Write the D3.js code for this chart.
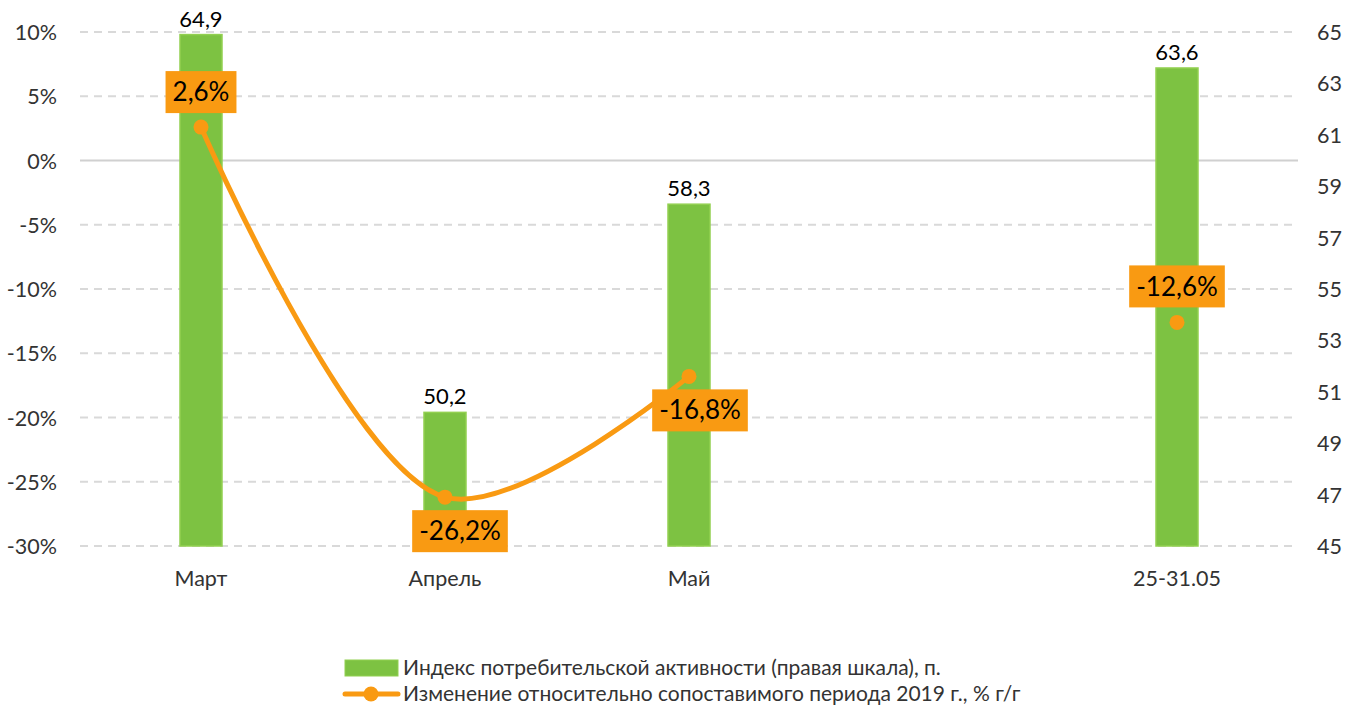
<!DOCTYPE html>
<html><head><meta charset="utf-8">
<script src="https://cdn.jsdelivr.net/npm/d3@7"></script>
<style>body{margin:0;background:#fff}svg{display:block}text{font-family:Lato,"Open Sans",sans-serif}</style>
</head><body><svg id="c" width="1349" height="706"></svg>
<script>
const categories = ["Март", "Апрель", "Май", "", "25-31.05"];
const indexValues = [64.9, 50.2, 58.3, null, 63.6];
const changeValues = [2.6, -26.2, -16.8, null, -12.6];
const leftTicks = [10, 5, 0, -5, -10, -15, -20, -25, -30];
const rightTicks = [65, 63, 61, 59, 57, 55, 53, 51, 49, 47, 45];
const legendLabels = ["Индекс потребительской активности (правая шкала), п.", "Изменение относительно сопоставимого периода 2019 г., % г/г"];

const green = "#7DC242", orange = "#F99A12", axisText = "#333";
const fmt = v => d3.format(".1f")(v).replace(".", ",").replace("\u2212", "-");
const svg = d3.select("#c");
const x = d3.scaleBand().domain(categories.map((d,i)=>i)).range([79, 1299]);
const yL = d3.scaleLinear().domain([-30, 10]).range([546, 32]);
const yR = d3.scaleLinear().domain([45, 65]).range([546, 32]);
const cx = i => x(i) + x.bandwidth()/2;

// gridlines
svg.append("g").selectAll("line").data(leftTicks).join("line")
  .attr("x1", 80).attr("x2", 1298)
  .attr("y1", d=>yL(d)).attr("y2", d=>yL(d))
  .attr("stroke", d=> d===0 ? "#d0d0d0" : "#d9d9d9").attr("stroke-width", 2)
  .attr("stroke-dasharray", d=> d===0 ? null : "8,6");

// left axis
const axL = d3.axisLeft(yL).tickValues(leftTicks).tickFormat(d=>String(d).replace("\u2212","-")+"%").tickSize(0).tickPadding(0);
svg.append("g").attr("transform","translate(57,0)").call(axL)
  .call(g=>g.select(".domain").remove())
  .selectAll("text").attr("font-size", 21.5).attr("fill", axisText).attr("dy","0.35em");
// right axis
const axR = d3.axisRight(yR).tickValues(rightTicks).tickSize(0).tickPadding(0);
svg.append("g").attr("transform","translate(1317,0)").call(axR)
  .call(g=>g.select(".domain").remove())
  .selectAll("text").attr("font-size", 21.5).attr("fill", axisText).attr("dy","0.35em");
// x axis
const axX = d3.axisBottom(x).tickFormat(i=>categories[i]).tickSize(0).tickPadding(0);
svg.append("g").attr("transform","translate(0,578)").call(axX)
  .call(g=>g.select(".domain").remove())
  .selectAll("text").attr("font-size", 21.5).attr("fill", axisText).attr("dy","0.35em");

// bars
const bw = 42;
const barData = indexValues.map((v,i)=>({v,i})).filter(d=>d.v!=null);
svg.append("g").selectAll("rect").data(barData).join("rect")
  .attr("x", d=>cx(d.i)-bw/2).attr("width", bw)
  .attr("y", d=>yR(d.v)).attr("height", d=>yR(45)-yR(d.v))
  .attr("fill", green).attr("stroke", "#92D050").attr("stroke-width", 1.5);
svg.append("g").selectAll("text").data(barData).join("text")
  .attr("x", d=>cx(d.i)).attr("y", d=>yR(d.v)-8)
  .attr("text-anchor","middle").attr("font-size", 22).attr("fill","#000")
  .text(d=>fmt(d.v));

// line
const lineData = changeValues.map((v,i)=>({v,i}));
const line = d3.line().defined(d=>d.v!=null).x(d=>cx(d.i)).y(d=>yL(d.v)).curve(d3.curveCatmullRom.alpha(0.5));
svg.append("path").datum(lineData).attr("d", line).attr("fill","none")
  .attr("stroke", orange).attr("stroke-width", 5).attr("stroke-linecap","round");
const pts = lineData.filter(d=>d.v!=null);
svg.append("g").selectAll("circle").data(pts).join("circle")
  .attr("cx", d=>cx(d.i)).attr("cy", d=>yL(d.v)).attr("r", 7.5).attr("fill", orange);

// line labels
const labelOffsets = [[0,-35],[15,34],[11,34],null,[0,-36]];
const lg = svg.append("g");
pts.forEach(d=>{
  const [dx,dy] = labelOffsets[d.i];
  const g = lg.append("g").attr("transform", `translate(${cx(d.i)+dx},${yL(d.v)+dy})`);
  const t = g.append("text").attr("text-anchor","middle").attr("dy","0.35em")
    .attr("font-size", 26).attr("fill","#000").text(fmt(d.v)+"%");
  const bb = t.node().getBBox();
  g.insert("rect","text").attr("x", bb.x-7).attr("y", -21).attr("width", bb.width+14).attr("height", 42).attr("fill", orange);
});

// legend
const leg = svg.append("g");
leg.append("rect").attr("x",345).attr("y",660).attr("width",53).attr("height",16).attr("fill",green).attr("stroke","#92D050");
leg.append("text").attr("x",403).attr("y",668).attr("dy","0.35em").attr("font-size",21).attr("fill",axisText).text(legendLabels[0]);
leg.append("line").attr("x1",345).attr("x2",398).attr("y1",694).attr("y2",694).attr("stroke",orange).attr("stroke-width",5).attr("stroke-linecap","round");
leg.append("circle").attr("cx",371).attr("cy",694).attr("r",7.5).attr("fill",orange);
leg.append("text").attr("x",403).attr("y",694).attr("dy","0.35em").attr("font-size",21).attr("fill",axisText).text(legendLabels[1]);
</script></body></html>
